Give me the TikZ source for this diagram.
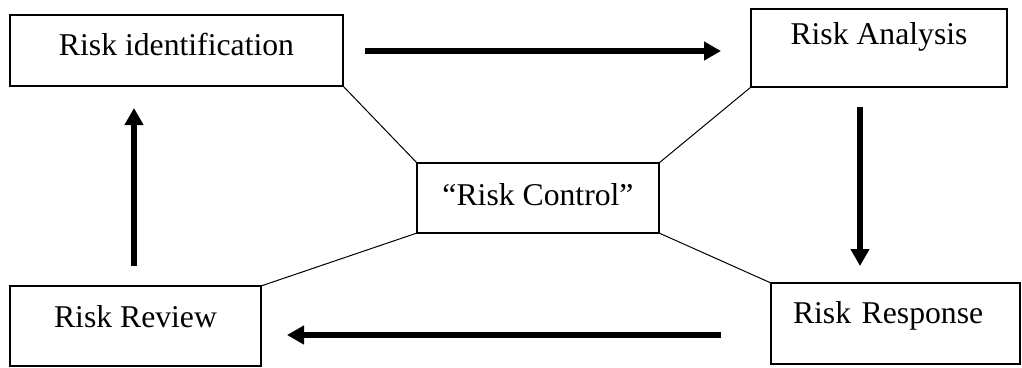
\documentclass[tikz,border=0pt]{standalone}
\usepackage{fontspec}
\setmainfont{Liberation Serif}
\usetikzlibrary{arrows.meta}
\tikzset{
  box/.style={draw, line width=1.1pt, inner sep=0pt, outer sep=0pt,
    font=\fontsize{31.7pt}{38pt}\selectfont, anchor=north west},
  link/.style={line width=1pt},
  flow/.style={line width=5.5pt, -{Triangle[width=18pt,length=17pt]}},
}
\begin{document}
\begin{tikzpicture}[x=1pt,y=-1pt]
\useasboundingbox (0,0) rectangle (1022,367);
\node[box, minimum width=333pt, text height=40pt, text depth=31pt] (ri) at (10,15) {Risk identification};
\node[box, minimum width=256pt, text height=35pt, text depth=43pt] (ra) at (751,9) {Risk Analysis};
\node[box, minimum width=242pt, text height=42pt, text depth=28pt] (rc) at (417,163) {“Risk Control”};
\node[box, minimum width=251pt, text height=41pt, text depth=39pt] (rv) at (10,286) {Risk Review};
\node[box, inner xsep=22pt, text width=205pt, align=left, text height=40pt, text depth=41pt] (rs) at (771,283) {Risk Response};
\draw[link] (ri.south east) -- (rc.north west);
\draw[link] (ra.south west) -- (rc.north east);
\draw[link] (rc.south west) -- (rv.north east);
\draw[link] (rc.south east) -- (rs.north west);
\coordinate (t1) at (365,51);  \coordinate (t2) at (721,51);
\coordinate (d1) at (860,107); \coordinate (d2) at (860,266);
\coordinate (b1) at (721,335); \coordinate (b2) at (287,335);
\coordinate (u1) at (134,266); \coordinate (u2) at (134,108);
\draw[flow] (t1) -- (t2);
\draw[flow] (d1) -- (d2);
\draw[flow] (b1) -- (b2);
\draw[flow] (u1) -- (u2);
\end{tikzpicture}
\end{document}
